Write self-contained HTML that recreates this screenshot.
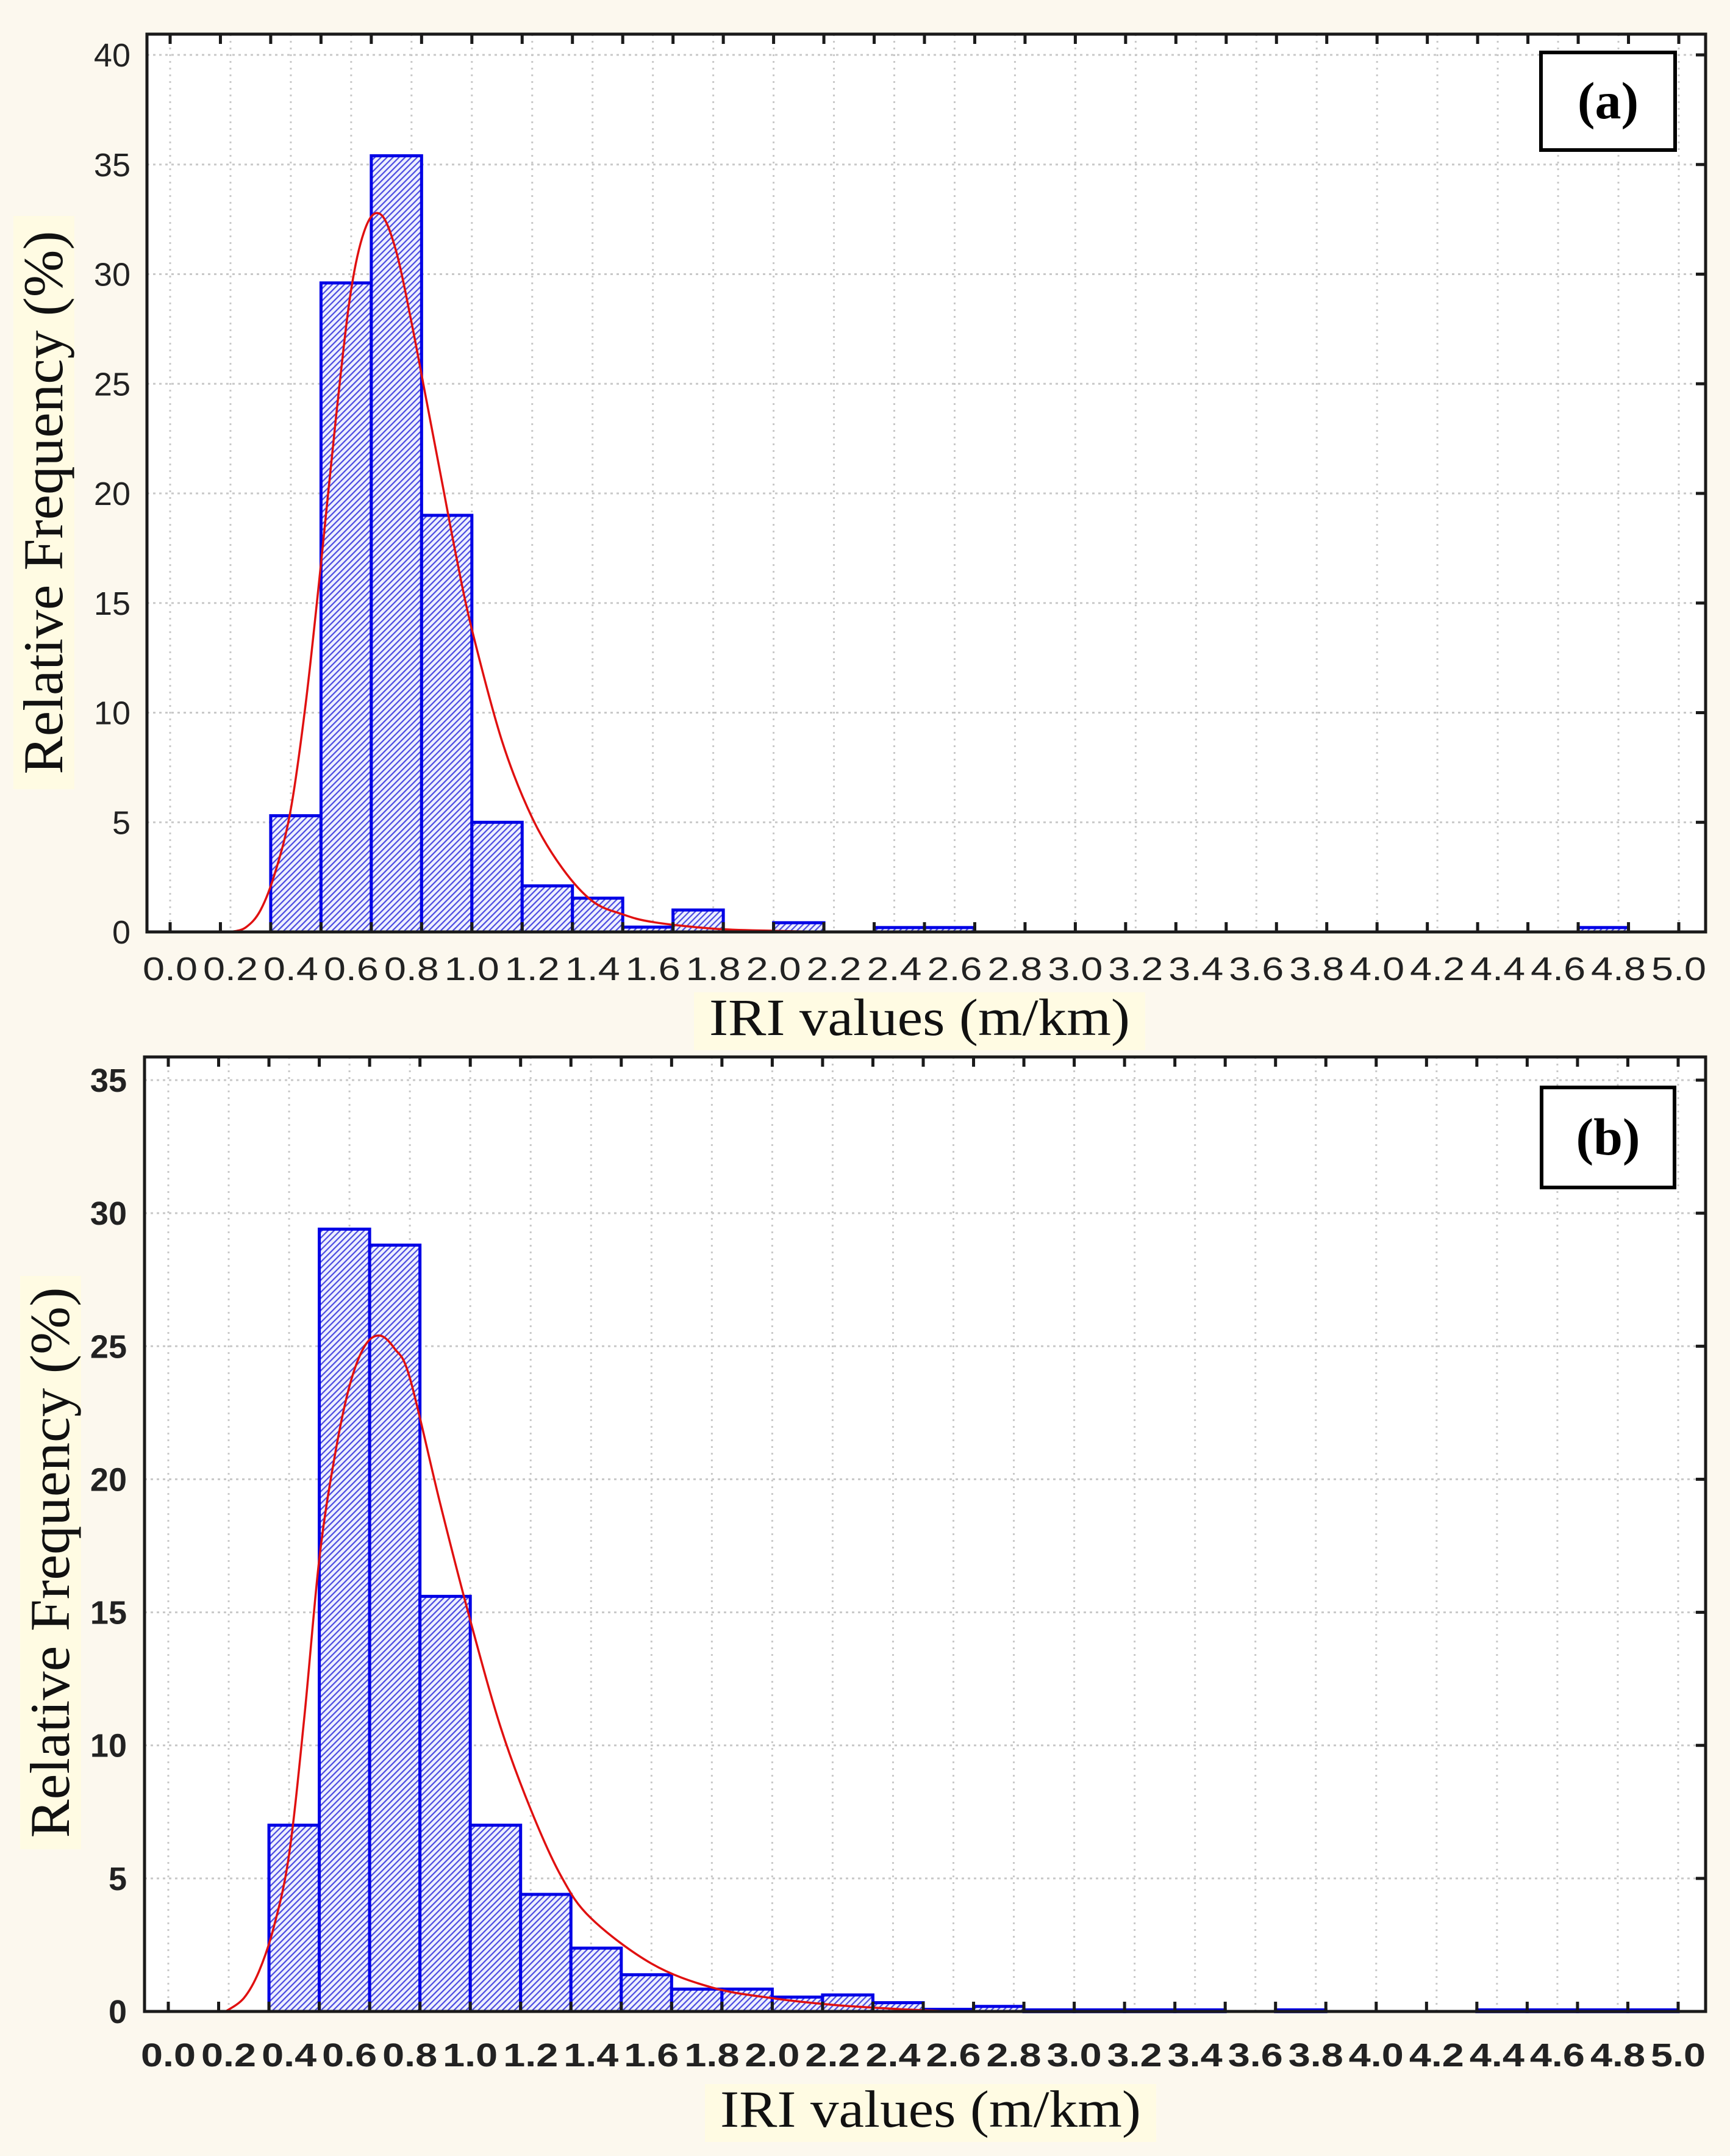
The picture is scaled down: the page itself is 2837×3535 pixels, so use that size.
<!DOCTYPE html>
<html><head><meta charset="utf-8"><style>
html,body{margin:0;padding:0;background:#fcf8ee;}
svg{display:block}
</style></head><body>
<svg id="fig" width="2837" height="3535" viewBox="0 0 2837 3535" xmlns="http://www.w3.org/2000/svg">
<defs>
<pattern id="hatch" patternUnits="userSpaceOnUse" width="7" height="7" patternTransform="rotate(45)">
<rect width="7" height="7" fill="#eef0ff"/>
<rect width="2.2" height="7" fill="#4a4ae0"/>
</pattern>
</defs>
<rect x="0" y="0" width="2837" height="3535" fill="#fcf8ee"/>
<g id="panelA"></g>
<g id="panelB"></g>
</svg>
<script>
// ---- data ----
const binStart = 1/3;
const binWidth = 1/6;
const freqA = [5.3,29.6,35.4,19.0,5.0,2.1,1.54,0.22,1.0,0,0.42,0,0.2,0.2,0,0,0,0,0,0,0,0,0,0,0,0,0.2,0];
const freqB = [7.0,29.4,28.8,15.6,7.0,4.4,2.38,1.38,0.84,0.84,0.54,0.62,0.33,0.08,0.19,0.06,0.06,0.06,0.06,0,0.06,0,0,0,0.06,0.06,0.06,0.06];
const curveXA = [0.2,0.25,0.3,0.35,0.4,0.45,0.5,0.55,0.6,0.65,0.7,0.75,0.8,0.85,0.9,0.95,1.0,1.1,1.2,1.3,1.4,1.5,1.6,1.8,2.0,2.2];
const curveYA = [0,0.2,1.0,2.8,5.6,10.5,16.8,23.5,29.3,32.2,32.7,31.0,27.8,24.2,20.6,17.0,13.8,8.7,5.2,2.9,1.4,0.8,0.45,0.15,0.05,0];
const curveXB = [0.19,0.25,0.3,0.35,0.4,0.45,0.5,0.55,0.6,0.65,0.7,0.75,0.8,0.9,1.0,1.1,1.2,1.3,1.4,1.6,1.8,2.0,2.2,2.4,2.6];
const curveYB = [0,0.5,1.5,3.2,5.9,11.0,17.0,20.8,23.5,25.0,25.4,24.9,23.8,19.1,14.7,10.7,7.6,5.1,3.5,1.8,0.9,0.5,0.25,0.1,0];
const xTicks = ["0.0","0.2","0.4","0.6","0.8","1.0","1.2","1.4","1.6","1.8","2.0","2.2","2.4","2.6","2.8","3.0","3.2","3.4","3.6","3.8","4.0","4.2","4.4","4.6","4.8","5.0"];
const yTicksA = [0,5,10,15,20,25,30,35,40];
const yTicksB = [0,5,10,15,20,25,30,35];

const NS = "http://www.w3.org/2000/svg";
function mk(parent, tag, attrs){const e=document.createElementNS(NS,tag);for(const k in attrs)e.setAttribute(k,attrs[k]);parent.appendChild(e);return e;}

function smoothPath(pts){
  let d='M'+pts[0][0].toFixed(1)+','+pts[0][1].toFixed(1);
  for(let i=0;i<pts.length-1;i++){
    const p0=pts[Math.max(0,i-1)],p1=pts[i],p2=pts[i+1],p3=pts[Math.min(pts.length-1,i+2)];
    const c1x=p1[0]+(p2[0]-p0[0])/6,c1y=p1[1]+(p2[1]-p0[1])/6;
    const c2x=p2[0]-(p3[0]-p1[0])/6,c2y=p2[1]-(p3[1]-p1[1])/6;
    d+='C'+c1x.toFixed(1)+','+c1y.toFixed(1)+' '+c2x.toFixed(1)+','+c2y.toFixed(1)+' '+p2[0].toFixed(1)+','+p2[1].toFixed(1);
  }
  return d;
}

function drawPanel(g, cfg){
  const X = v => cfg.x0 + v/5*(cfg.x5-cfg.x0);
  const Y = v => cfg.y0 - v/cfg.ymax*(cfg.y0-cfg.yTop);
  const bg = mk(g,'rect',{x:cfg.L,y:cfg.T,width:cfg.R-cfg.L,height:cfg.y0-cfg.T,fill:'#ffffff'});
  
  
  for(let i=0;i<xTicks.length;i++){
    const gl=mk(g,'line',{x1:X(i*0.2),x2:X(i*0.2),y1:cfg.T,y2:cfg.y0,stroke:'#c8c8c8','stroke-width':3,'stroke-dasharray':'3 8'});
    
    
  }
  for(const t of cfg.yTicks){
    if(t===0)continue;
    const gl=mk(g,'line',{x1:cfg.L,x2:cfg.R,y1:Y(t),y2:Y(t),stroke:'#c8c8c8','stroke-width':3,'stroke-dasharray':'4 6'});
    
    
  }
  cfg.freq.forEach((f,i)=>{
    if(f<=0)return;
    const a=binStart+i*binWidth,b=a+binWidth;
    const r=mk(g,'rect',{x:X(a),y:Y(f),width:X(b)-X(a),height:Math.max(cfg.y0-Y(f),3),fill:'url(#hatch)',stroke:'#0000e6','stroke-width':5});
    
    
  });
  const pts=cfg.cx.map((x,i)=>[X(x),Y(cfg.cy[i])]);
  const p=mk(g,'path',{d:smoothPath(pts),fill:'none',stroke:'#e01010','stroke-width':3.5,'stroke-linejoin':'round'});
  
  
  const fr=mk(g,'rect',{x:cfg.L,y:cfg.T,width:cfg.R-cfg.L,height:cfg.y0-cfg.T,fill:'none',stroke:'#1a1a1a','stroke-width':5});
  
  
  for(let i=0;i<=30;i++){
    const v=i*binWidth; const x=X(v); if(x>cfg.R)break;
    const t1=mk(g,'line',{x1:x,x2:x,y1:cfg.T,y2:cfg.T+16,stroke:'#1a1a1a','stroke-width':5});
    
    
    const t2=mk(g,'line',{x1:x,x2:x,y1:cfg.y0,y2:cfg.y0-16,stroke:'#1a1a1a','stroke-width':5});
    
    
  }
  for(const t of cfg.yTicks){
    const r1=mk(g,'line',{x1:cfg.R,x2:cfg.R-16,y1:Y(t),y2:Y(t),stroke:'#1a1a1a','stroke-width':5});
    
    
    const lb=mk(g,'text',{x:cfg.yLabX,y:Y(t)+19,'text-anchor':'end','font-family':'Liberation Sans, sans-serif','font-size':54,'font-weight':cfg.bold?'bold':'normal',fill:'#222'});
    lb.textContent=String(t);
    
    
  }
  xTicks.forEach((s,i)=>{
    const lb=mk(g,'text',{x:X(i*0.2),y:cfg.xLabY,'text-anchor':'middle','font-family':'Liberation Sans, sans-serif','font-size':54,'font-weight':cfg.bold?'bold':'normal',fill:'#222',textLength:90,lengthAdjust:'spacingAndGlyphs'});
    lb.textContent=s;
    
    
  });
  const xbg=mk(g,'rect',{x:cfg.xtX-370,y:cfg.xtY-70,width:740,height:95,fill:'#fffbe3'});
  
  
  const xt=mk(g,'text',{x:cfg.xtX,y:cfg.xtY,'text-anchor':'middle','font-family':'Liberation Serif, serif','font-size':86,fill:'#111',textLength:690,lengthAdjust:'spacingAndGlyphs'});
  xt.textContent='IRI values (m/km)';
  
  
  const ybg=mk(g,'rect',{x:cfg.ytX-50,y:cfg.ytY-470,width:100,height:940,fill:'#fffbe3'});
  
  
  const yt=mk(g,'text',{x:0,y:0,transform:`translate(${cfg.ytX+30},${cfg.ytY}) rotate(-90)`,'text-anchor':'middle','font-family':'Liberation Serif, serif','font-size':92,fill:'#111',textLength:cfg.ytLen,lengthAdjust:'spacingAndGlyphs'});
  yt.textContent='Relative Frequency (%)';
  
  
  const bx=mk(g,'rect',{x:cfg.bx,y:cfg.by,width:cfg.bw,height:cfg.bh,fill:'#ffffff',stroke:'#000','stroke-width':6});
  
  
  const bt=mk(g,'text',{x:cfg.bx+cfg.bw/2,y:cfg.by+cfg.bh/2+28,'text-anchor':'middle','font-family':'Liberation Serif, serif','font-size':86,'font-weight':'bold',fill:'#000'});
  bt.textContent=cfg.label;
  
  
}

drawPanel(document.getElementById('panelA'),{
  L:241,R:2797,T:56,y0:1528,yTop:90,ymax:40,x0:279,x5:2753,
  freq:freqA,cx:curveXA,cy:curveYA,yTicks:yTicksA,yLabX:214,xLabY:1607,
  xtX:1508,xtY:1697,ytX:72,ytY:824,ytLen:891,bold:false,
  bx:2527,by:86,bw:220,bh:160,label:'(a)'
});
drawPanel(document.getElementById('panelB'),{
  L:237,R:2797,T:1733,y0:3298,yTop:1771,ymax:35,x0:276,x5:2752,
  freq:freqB,cx:curveXB,cy:curveYB,yTicks:yTicksB,yLabX:208,xLabY:3388,
  xtX:1526,xtY:3487,ytX:83,ytY:2562,ytLen:903,bold:true,
  bx:2528,by:1783,bw:218,bh:164,label:'(b)'
});
</script>
</body></html>
